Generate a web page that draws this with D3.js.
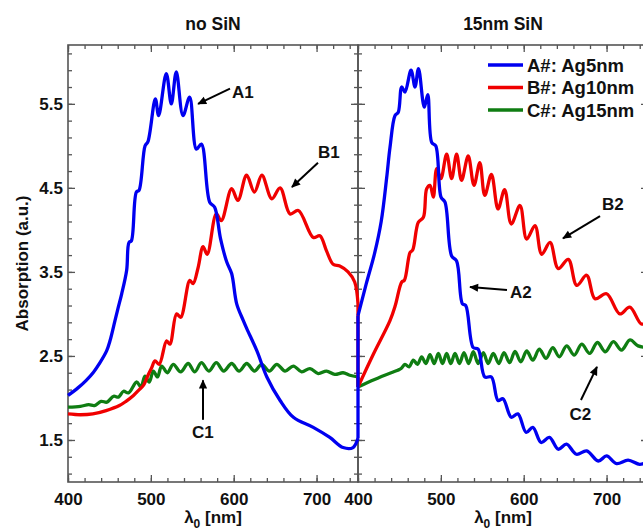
<!DOCTYPE html>
<html><head><meta charset="utf-8">
<script src="https://cdn.jsdelivr.net/npm/d3@7"></script>
<style>
body{margin:0;background:#fff;}
svg{display:block;font-family:"Liberation Sans",Arial,Helvetica,sans-serif;font-weight:bold;}
</style></head>
<body>
<svg id="c" width="643" height="530"></svg>
<script>
// ---------- data (wavelength nm, absorption a.u.) ----------
const A1 = [[400,2.03],[412,2.12],[422,2.21],[431,2.31],[438.6,2.42],[446.6,2.56],[450.7,2.68],[456.7,2.92],[460.7,3.08],[464.8,3.24],[470.8,3.52],[473.6,3.85],[476.5,3.87],[482.5,4.45],[485.7,4.47],[493,5.0],[496.5,5.05],[505.4,5.56],[509.4,5.36],[518.6,5.86],[524.7,5.50],[530.7,5.88],[538.8,5.36],[546.8,5.58],[555,4.96],[561,5.02],[571,4.33],[577,4.27],[584,3.90],[591.5,3.62],[597.5,3.48],[603.6,3.12],[611.6,2.92],[616,2.82],[628,2.56],[640,2.25],[656,1.97],[672,1.77],[696,1.65],[716,1.53],[732,1.41],[744,1.41],[750,1.52]];
const B1 = [[400,1.81],[415,1.80],[430,1.81],[446,1.85],[462,1.91],[470,1.96],[479,2.03],[486,2.10],[491,2.15],[497,2.28],[501,2.36],[505,2.44],[510,2.40],[519,2.68],[523,2.64],[531,3.0],[536,2.96],[547,3.40],[551,3.36],[557,3.55],[563,3.80],[568,3.71],[579,4.19],[585,4.11],[597.5,4.49],[605,4.35],[615.6,4.65],[625,4.45],[634,4.65],[646,4.37],[656,4.50],[668,4.19],[678,4.23],[696,3.91],[704,3.93],[712,3.75],[720,3.59],[728,3.57],[738,3.50],[746,3.38],[750,3.12]];
const C1 = [[400,1.89],[415,1.90],[425,1.92],[432,1.91],[440,1.96],[447,1.95],[455,2.02],[461,2.01],[467,2.08],[473,2.06],[482.9,2.19],[488,2.13],[492.9,2.26],[498,2.19],[503,2.32],[508,2.25],[513,2.38],[520,2.30],[527,2.40],[536,2.31],[545,2.41],[553,2.31],[561,2.42],[570,2.32],[579,2.42],[588,2.32],[597.5,2.41],[606.5,2.32],[615.7,2.41],[625,2.32],[633.8,2.40],[643,2.32],[652,2.40],[662,2.32],[672,2.38],[682,2.31],[692,2.35],[702,2.29],[712,2.32],[722,2.28],[732,2.30],[740,2.27],[750,2.25]];
const A2 = [[400,2.98],[410,3.36],[420,3.72],[428,4.10],[434.6,4.62],[438.6,4.98],[444.7,5.36],[448.6,5.40],[452.7,5.70],[456.7,5.64],[464,5.90],[468.8,5.70],[473,5.92],[480,5.46],[484.2,5.61],[489,5.04],[493.8,5.00],[500.2,4.39],[505,4.33],[513,3.69],[519,3.63],[526,3.12],[530,3.10],[539,2.60],[545,2.58],[553,2.25],[561,2.25],[569,1.97],[575,1.99],[585,1.77],[593,1.81],[603,1.59],[611,1.65],[621,1.47],[631,1.53],[641.7,1.39],[651.6,1.45],[663.6,1.33],[676,1.37],[690,1.25],[700,1.31],[712,1.22],[726,1.26],[740,1.21],[750,1.24]];
const B2 = [[400,2.13],[418.5,2.52],[438.6,2.92],[445,3.10],[452.8,3.38],[456,3.40],[462.8,3.73],[466,3.76],[472.8,4.09],[478.9,4.15],[482.9,4.49],[486.9,4.53],[490.9,4.39],[495,4.73],[500,4.61],[507,4.90],[513,4.61],[519,4.90],[525,4.59],[533,4.88],[540,4.53],[547,4.80],[553,4.41],[561,4.66],[569,4.25],[577,4.48],[585,4.07],[595.5,4.29],[603.6,3.89],[613.6,4.05],[621.7,3.71],[631.8,3.85],[641.7,3.54],[653.8,3.65],[664,3.34],[676,3.46],[686,3.18],[700,3.24],[716,3.00],[728,3.08],[742,2.88],[750,2.90]];
const C2 = [[400,2.13],[420,2.22],[440,2.30],[448,2.33],[452,2.35],[456.7,2.40],[461.7,2.37],[466.8,2.45],[471.8,2.40],[476.8,2.49],[481.9,2.41],[486.9,2.515],[492,2.41],[497,2.53],[502,2.41],[507,2.53],[512,2.41],[517.1,2.53],[522.5,2.41],[527.9,2.54],[533.5,2.41],[539.2,2.55],[545,2.41],[551.3,2.54],[557,2.41],[563.3,2.53],[570,2.41],[576.2,2.54],[583,2.42],[589.5,2.555],[596.5,2.43],[603.6,2.56],[611,2.45],[618.8,2.58],[627,2.47],[635,2.60],[643,2.49],[651.8,2.62],[661,2.51],[670,2.64],[679.5,2.53],[688.9,2.66],[698.5,2.55],[708.2,2.67],[718,2.57],[728.3,2.69],[738,2.62],[750,2.60]];

const panelTitles = ["no SiN", "15nm SiN"];
const xMajor = [400, 500, 600, 700];
const xMinor = d3.range(400, 751, 20);
const yMajor = [1.5, 2.5, 3.5, 4.5, 5.5];
const yMinor = d3.range(1.1, 6.2, 0.2);
const legendLabels = ["A#: Ag5nm", "B#: Ag10nm", "C#: Ag15nm"];
const colors = ["#0000f0", "#f00000", "#0f7d12"];
const annotations = [
  {p:0, t:"A1", tx:597.9, ty:5.57, anchor:"start", from:[595.5,5.68], to:[557,5.50]},
  {p:0, t:"B1", tx:701.7, ty:4.855, anchor:"start", from:[701.7,4.80], to:[670.3,4.51]},
  {p:0, t:"C1", tx:562.9, ty:1.52, anchor:"middle", from:[562.9,1.74], to:[562.9,2.21]},
  {p:1, t:"A2", tx:583.4, ty:3.19, anchor:"start", from:[579.8,3.285], to:[535.2,3.32]},
  {p:1, t:"B2", tx:694.5, ty:4.24, anchor:"start", from:[692.1,4.165], to:[647.4,3.90]},
  {p:1, t:"C2", tx:668.5, ty:1.74, anchor:"middle", from:[669.1,1.976], to:[688.4,2.37]}
];

// ---------- layout ----------
const svg = d3.select("#c");
const yTop = 45, yBot = 482;
const xs = [
  d3.scaleLinear().domain([400,750]).range([68,358]),
  d3.scaleLinear().domain([400,750]).range([358,648])
];
const y = d3.scaleLinear().domain([1,6.2]).range([yBot, yTop]);
const axisColor = "#555";

svg.append("defs").append("marker")
  .attr("id","arr").attr("viewBox","0 0 10 10").attr("refX",9).attr("refY",5)
  .attr("markerWidth",10).attr("markerHeight",9).attr("markerUnits","userSpaceOnUse")
  .attr("orient","auto")
  .append("path").attr("d","M0,0.5 L10,5 L0,9.5 Z").attr("fill","#000");

function styleAxis(g){
  g.select(".domain").remove();
  g.selectAll(".tick line").attr("stroke", axisColor).attr("stroke-width",1.3);
  g.selectAll(".tick text").attr("fill","#111").style("font-size","17px")
    .style("font-family",'"Liberation Sans",Arial,sans-serif').style("font-weight","bold");
}

xs.forEach((x, i) => {
  const g = svg.append("g");
  g.append("g").attr("transform",`translate(0,${yBot})`)
    .call(d3.axisBottom(x).tickValues(xMinor).tickSize(-4).tickFormat("")).call(styleAxis);
  g.append("g").attr("transform",`translate(0,${yTop})`)
    .call(d3.axisTop(x).tickValues(xMinor).tickSize(-4).tickFormat("")).call(styleAxis);
  g.append("g").attr("transform",`translate(${x.range()[0]},0)`)
    .call(d3.axisLeft(y).tickValues(yMinor).tickSize(-4).tickFormat("")).call(styleAxis);
  g.append("g").attr("transform",`translate(${x.range()[1]},0)`)
    .call(d3.axisRight(y).tickValues(yMinor).tickSize(-4).tickFormat("")).call(styleAxis);
  g.append("g").attr("transform",`translate(0,${yBot})`)
    .call(d3.axisBottom(x).tickValues(xMajor).tickSize(-7).tickPadding(11).tickFormat(d3.format("d"))).call(styleAxis);
  g.append("g").attr("transform",`translate(0,${yTop})`)
    .call(d3.axisTop(x).tickValues(xMajor).tickSize(-7).tickFormat("")).call(styleAxis);
  const yl = d3.axisLeft(y).tickValues(yMajor).tickSize(-7).tickPadding(5);
  if (i === 1) yl.tickFormat("");
  else yl.tickFormat(d3.format(".1f"));
  g.append("g").attr("transform",`translate(${x.range()[0]},0)`).call(yl).call(styleAxis);
  g.append("g").attr("transform",`translate(${x.range()[1]},0)`)
    .call(d3.axisRight(y).tickValues(yMajor).tickSize(-7).tickFormat("")).call(styleAxis);
  g.append("rect").attr("x",x.range()[0]).attr("y",yTop)
    .attr("width",x.range()[1]-x.range()[0]).attr("height",yBot-yTop)
    .attr("fill","none").attr("stroke",axisColor).attr("stroke-width",1.6);
  const cx = (x.range()[0]+x.range()[1])/2;
  svg.append("text").attr("x",cx).attr("y",30).attr("text-anchor","middle")
    .style("font-size","17.5px").attr("fill","#111").text(panelTitles[i]);
  const xl = svg.append("text").attr("x",cx).attr("y",523).attr("text-anchor","middle")
    .style("font-size","17px").attr("fill","#111");
  xl.append("tspan").text("λ");
  xl.append("tspan").attr("dy",5).style("font-size","12px").text("0");
  xl.append("tspan").attr("dy",-5).text(" [nm]");
});

svg.append("text").attr("transform","translate(28,263.5) rotate(-90)")
  .attr("text-anchor","middle").style("font-size","17px").attr("fill","#111")
  .text("Absorption (a.u.)");

// ---------- series ----------
const seriesL = [A1, B1, C1], seriesR = [A2, B2, C2];
const lines = xs.map(x => d3.line().x(d => x(d[0])).y(d => y(d[1])).curve(d3.curveCatmullRom.alpha(0.5)));
const plotG = svg.append("g");
[2,1,0].forEach(k => {
  plotG.append("path").datum(seriesL[k]).attr("d", lines[0])
    .attr("fill","none").attr("stroke",colors[k]).attr("stroke-width",3.3).attr("stroke-linejoin","round");
  plotG.append("path").datum(seriesR[k]).attr("d", lines[1])
    .attr("fill","none").attr("stroke",colors[k]).attr("stroke-width",3.3).attr("stroke-linejoin","round");
  const a = seriesL[k][seriesL[k].length-1], b = seriesR[k][0];
  plotG.append("line").attr("x1",xs[0](a[0])).attr("y1",y(a[1]))
    .attr("x2",xs[1](b[0])).attr("y2",y(b[1]))
    .attr("stroke",colors[k]).attr("stroke-width",3.3);
});

// ---------- legend ----------
const lg = svg.append("g");
legendLabels.forEach((t, k) => {
  const yy = 65 + k*22.5;
  lg.append("line").attr("x1",488).attr("x2",523).attr("y1",yy).attr("y2",yy)
    .attr("stroke",colors[k]).attr("stroke-width",3.3);
  lg.append("text").attr("x",527).attr("y",yy+6.5).style("font-size","18.5px").attr("fill","#111").text(t);
});

// ---------- annotations ----------
annotations.forEach(a => {
  const x = xs[a.p];
  svg.append("line").attr("x1",x(a.from[0])).attr("y1",y(a.from[1]))
    .attr("x2",x(a.to[0])).attr("y2",y(a.to[1]))
    .attr("stroke","#000").attr("stroke-width",2).attr("marker-end","url(#arr)");
  svg.append("text").attr("x",x(a.tx)).attr("y",y(a.ty)).attr("text-anchor",a.anchor)
    .style("font-size","17px").attr("fill","#111").text(a.t);
});
</script>
</body></html>
